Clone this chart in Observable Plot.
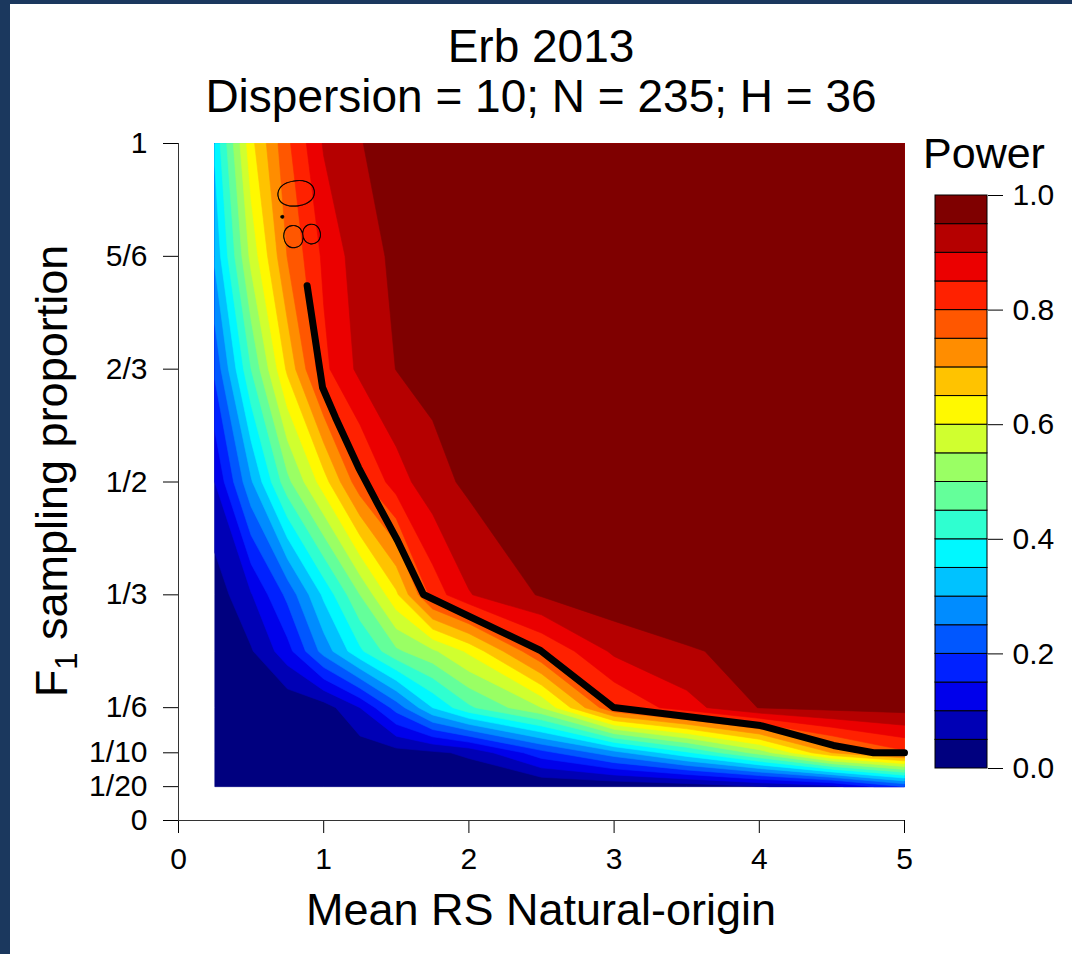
<!DOCTYPE html>
<html>
<head>
<meta charset="utf-8">
<script src="https://cdn.jsdelivr.net/npm/d3@7"></script>
<script src="https://cdn.jsdelivr.net/npm/@observablehq/plot@0.6"></script>
<style>
  html, body { margin: 0; padding: 0; }
  body { width: 1072px; height: 954px; background: #1b385e; position: relative; overflow: hidden;
         font-family: "Liberation Sans", Arial, sans-serif; }
  #panel { position: absolute; left: 10px; top: 4px; width: 1062px; height: 950px; background: #fff; }
  .layer { position: absolute; left: 0; top: 0; }
</style>
</head>
<body>
<div id="panel"></div>
<div id="main" class="layer"></div>
<div id="legend" class="layer"></div>
<svg id="texts" class="layer" width="1072" height="954" style="font-family:'Liberation Sans',Arial,sans-serif">
  <text x="541" y="62" font-size="46" text-anchor="middle">Erb 2013</text>
  <text x="541" y="112" font-size="46" text-anchor="middle">Dispersion = 10; N = 235; H = 36</text>
  <text x="541" y="925" font-size="45" text-anchor="middle">Mean RS Natural-origin</text>
  <text transform="translate(67,471) rotate(-90)" font-size="45" text-anchor="middle">F<tspan font-size="31" dy="10">1</tspan><tspan dy="-10"> sampling proportion</tspan></text>
  <text x="984" y="168" font-size="43" text-anchor="middle">Power</text>
</svg>
<script>
// ---- data ----
const meanRS = [0.25, 0.5, 0.75, 1, 1.25, 1.5, 1.75, 2, 2.5, 3, 3.5, 4, 4.5, 5];
const samplingProp = [1/20, 1/10, 1/6, 1/4, 1/3, 1/2, 2/3, 5/6, 1];

// power at each meanRS value, one array per sampling proportion
const power_1_20 = [0, 0, 0, 0, 0, 0, 0, 0, 0, 0.005, 0.015, 0.045, 0.08, 0.2];
const power_1_10 = [0, 0, 0, 0, 0.02, 0.03, 0.04, 0.06, 0.18, 0.28, 0.39, 0.52, 0.70, 0.79];
const power_1_6  = [0, 0, 0.01, 0.025, 0.10, 0.22, 0.35, 0.44, 0.55, 0.80, 0.88, 0.952, 0.965, 0.97];
const power_1_4  = [0, 0.045, 0.13, 0.27, 0.39, 0.49, 0.54, 0.61, 0.80, 0.91, 0.945, 0.965, 0.975, 0.98];
const power_1_3  = [0.02, 0.096, 0.213, 0.36, 0.50, 0.64, 0.82, 0.897, 0.955, 0.985, 0.99, 0.99, 0.995, 1];
const power_1_2  = [0.10, 0.293, 0.485, 0.627, 0.785, 0.877, 0.932, 0.96, 0.975, 0.985, 0.99, 0.995, 1, 1];
const power_2_3  = [0.21, 0.45, 0.66, 0.837, 0.913, 0.951, 0.965, 0.975, 0.985, 0.99, 0.995, 1, 1, 1];
const power_5_6  = [0.31, 0.565, 0.752, 0.86, 0.928, 0.96, 0.975, 0.985, 0.995, 1, 1, 1, 1, 1];
const power_1    = [0.36, 0.635, 0.79, 0.905, 0.948, 0.97, 0.98, 0.99, 0.995, 1, 1, 1, 1, 1];
const powerRows = [power_1_20, power_1_10, power_1_6, power_1_4, power_1_3, power_1_2, power_2_3, power_5_6, power_1];

// thick black 0.8 power line
const line_x = [0.886, 0.992, 1.081, 1.240, 1.371, 1.508, 1.687, 2.493, 2.996, 4.008, 4.511, 4.787, 5.0];
const line_y = [0.790, 0.6396, 0.5953, 0.5214, 0.4682, 0.4136, 0.3338, 0.2511, 0.1669, 0.1403, 0.1108, 0.1, 0.1];

// contour label
const contourLabel = [{x: 0.82, y: 0.895, text: "0.8"}];

// axis ticks
const yTicks = [0, 1/20, 1/10, 1/6, 1/3, 1/2, 2/3, 5/6, 1];
const yTickLabels = ["0", "1/20", "1/10", "1/6", "1/3", "1/2", "2/3", "5/6", "1"];
const xTicks = [0, 1, 2, 3, 4, 5];
const legendTicks = [0, 0.2, 0.4, 0.6, 0.8, 1.0];

// levels and palette (jet, 20 levels)
const levels = d3.range(0, 20).map(i => i / 20);
const palette = ["#00007F","#0000B5","#0000EB","#0021FF","#0057FF","#008CFF","#00C2FF","#00F8FF","#2FFFD0","#64FF9A",
                 "#9AFF64","#D0FF2F","#FFF900","#FFC300","#FF8D00","#FF5700","#FF2100","#EB0000","#B50000","#7F0000"];

// ---- build: filled contours (marching squares on the sample grid, as in filled.contour) ----
const nx = meanRS.length, ny = samplingProp.length;
const gridValues = powerRows.flat();
const bandsGeo = d3.contours().size([nx, ny]).thresholds(levels).smooth(true)(gridValues);
// grid-index coordinate -> data coordinate (sample i sits at index coordinate i + 0.5)
const toData = (arr, u) => {
  const s = Math.max(0, Math.min(arr.length - 1, u - 0.5));
  const k = Math.min(Math.floor(s), arr.length - 2);
  return arr[k] + (s - k) * (arr[k + 1] - arr[k]);
};
const contourPts = [];
let ringId = 0;
bandsGeo.forEach(mp => {
  mp.coordinates.forEach(poly => {
    const ring = poly[0];
    ring.forEach(([u, v]) => contourPts.push({ring: ringId, level: mp.value, x: toData(meanRS, u), y: toData(samplingProp, v)}));
    ringId++;
  });
});

const blackLine = line_x.map((x, i) => ({x, y: line_y[i]}));
const bands = levels.map(t => ({lo: t, hi: t + 0.05}));

const colorScale = {type: "threshold", domain: levels.slice(1), range: palette};
const fontFam = "'Liberation Sans', Arial, sans-serif";

const main = Plot.plot({
  width: 1072, height: 954,
  marginLeft: 178, marginRight: 168, marginTop: 143, marginBottom: 134,
  style: {background: "transparent", fontFamily: fontFam, fontSize: "30px", color: "black"},
  x: {domain: [0, 5], ticks: xTicks, tickSize: 13, tickPadding: 14, label: null, tickFormat: d => String(d)},
  y: {domain: [0, 1], ticks: yTicks, tickSize: 15, tickPadding: 16, label: null,
      tickFormat: d => yTickLabels[yTicks.findIndex(t => Math.abs(t - d) < 1e-9)]},
  color: colorScale,
  marks: [
    Plot.line(contourPts, {x: "x", y: "y", z: "ring", fill: "level", stroke: "level", strokeWidth: 0.6,
                           strokeLinejoin: "miter", curve: "linear"}),
    Plot.text(contourLabel, {x: "x", y: "y", text: "text", rotate: 82, fontSize: 52,
                             fontFamily: "Lato", fontWeight: 100, fill: "black", stroke: "black", strokeWidth: 0.5}),
    Plot.line(blackLine, {x: "x", y: "y", stroke: "black", strokeWidth: 7,
                          strokeLinejoin: "round", strokeLinecap: "round"}),
    Plot.ruleX([0], {stroke: "#333"}),
    Plot.ruleY([0], {stroke: "#333"})
  ]
});
document.getElementById("main").appendChild(main);

const legend = Plot.plot({
  width: 1072, height: 954,
  marginLeft: 935, marginRight: 85, marginTop: 195, marginBottom: 186,
  style: {background: "transparent", fontFamily: fontFam, fontSize: "30px", color: "black"},
  x: {domain: [0, 1], axis: null},
  y: {domain: [0, 1], axis: "right", ticks: legendTicks, tickFormat: ".1f", tickSize: 15, tickPadding: 10, label: null},
  color: colorScale,
  marks: [
    Plot.rect(bands, {x1: 0, x2: 1, y1: "lo", y2: "hi", fill: "lo", stroke: "black", strokeWidth: 1})
  ]
});
document.getElementById("legend").appendChild(legend);
</script>
</body>
</html>
